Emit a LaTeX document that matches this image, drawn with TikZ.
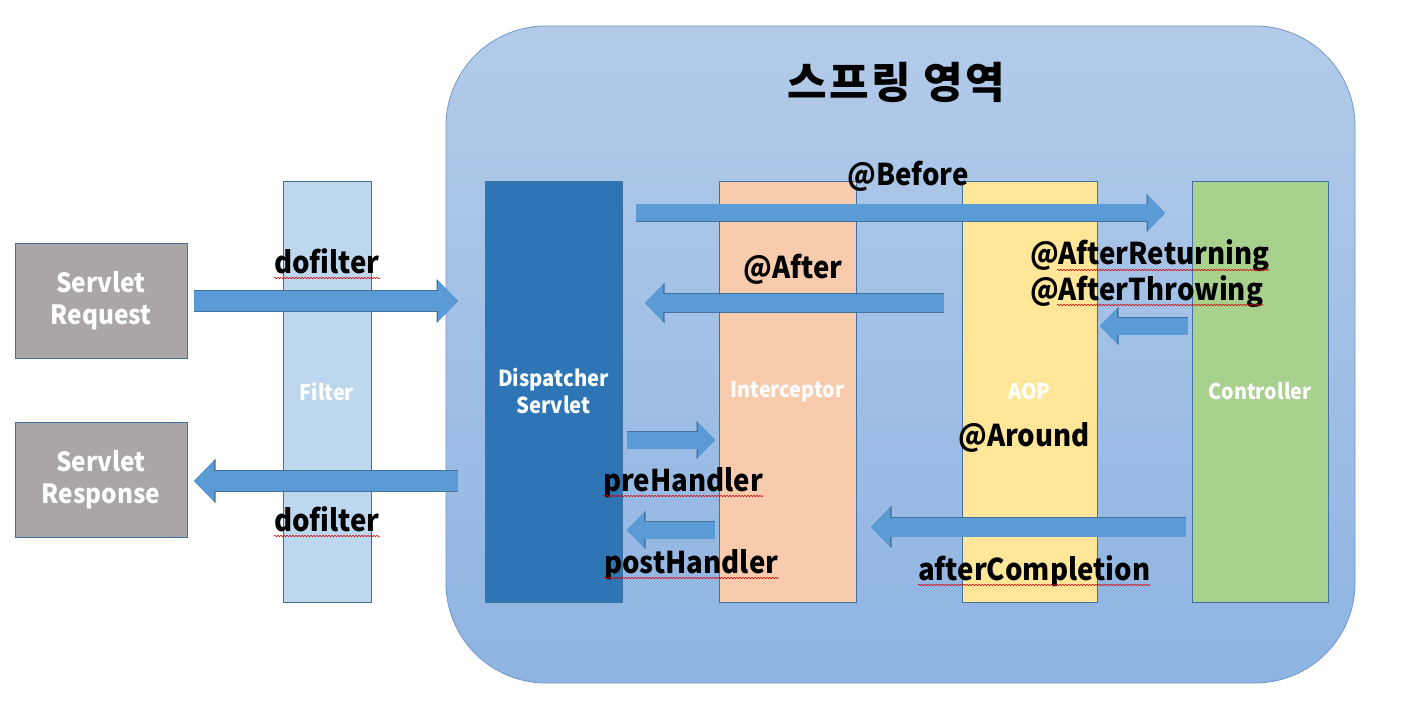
\documentclass[tikz,border=0pt]{standalone}
\usepackage{fontspec}
\setmainfont{Noto Sans CJK KR}
\newfontfamily\narrowfont{Noto Sans CJK KR}[FakeStretch=0.92]
\usepackage{tikz}
\usetikzlibrary{arrows.meta,decorations.pathmorphing}

\definecolor{springtop}{HTML}{B3CBE9}
\definecolor{springbot}{HTML}{8EB4E2}
\definecolor{springline}{HTML}{7397C8}
\definecolor{edgeblue}{HTML}{41719C}
\definecolor{arrowblue}{HTML}{5B9BD5}
\definecolor{servgray}{HTML}{A9A6A5}
\definecolor{filterblue}{HTML}{BDD7EE}
\definecolor{dispblue}{HTML}{2E75B6}
\definecolor{intcpeach}{HTML}{F8CBAD}
\definecolor{aopyellow}{HTML}{FFE699}
\definecolor{ctrlgreen}{HTML}{A9D18E}

\begin{document}
\begin{tikzpicture}[x=1pt,y=-1pt,
    col/.style={draw=edgeblue,line width=0.8pt,inner sep=0pt,minimum height=421pt,
                text=white,align=center,font=\narrowfont\bfseries\fontsize{21.5}{26}\selectfont},
    serv/.style={draw=edgeblue,line width=0.8pt,fill=servgray,inner sep=0pt,
                 minimum width=172pt,minimum height=115pt,text=white,align=center,
                 font=\narrowfont\bfseries\fontsize{26.5}{32}\selectfont},
    lbl/.style={inner sep=0pt,font=\narrowfont\bfseries\fontsize{30}{36}\selectfont},
    flow/.style={line width=#1,draw=arrowblue,-{Triangle[length=0pt 1.0,width=0pt 2.0]},
                 preaction={draw=edgeblue,line width=#1+1.5pt,
                            -{Triangle[length=0pt 1.0,width=0pt 2.0]}}},
    typo/.style={draw=red!85!black,line width=0.6pt,decorate,
                 decoration={snake,amplitude=0.7pt,segment length=3pt}}]

  \useasboundingbox (0,0) rectangle (1403,714);

  % spring area
  \node[draw=springline,line width=0.8pt,top color=springtop,bottom color=springbot,
        rounded corners=100pt,minimum width=909pt,minimum height=657pt,inner sep=0pt]
        (spring) at (900.5,354.5) {};
  \node[font=\bfseries\fontsize{43}{48}\selectfont\addfontfeatures{LetterSpace=6}]
        (title) at (896,82) {스프링 영역};

  % columns
  \node[serv] (req) at (101,300.5) {Servlet\\Request};
  \node[serv] (res) at (101,479.5) {Servlet\\Response};
  \node[col,fill=filterblue,minimum width=88pt] (filter) at (327,391.5) {Filter};
  \node[col,fill=dispblue,minimum width=137pt,font=\narrowfont\bfseries\fontsize{22}{27}\selectfont]
        (disp) at (553.5,391.5) {Dispatcher\\Servlet};
  \node[col,fill=intcpeach,minimum width=137pt] (intc) at (787.5,391.5) {Interceptor};
  \node[col,fill=aopyellow,minimum width=135pt] (aop) at (1029.5,391.5) {AOP};
  \node[col,fill=ctrlgreen,minimum width=136pt] (ctrl) at (1260,391.5) {Controller};

  % arrow ends
  \coordinate (inA) at (194,301);   \coordinate (inB) at (458,301);
  \coordinate (outA) at (458,481);  \coordinate (outB) at (194,481);
  \coordinate (befA) at (636,213);  \coordinate (befB) at (1165,213);
  \coordinate (aftA) at (944,303);  \coordinate (aftB) at (645,303);
  \coordinate (preA) at (627,440);  \coordinate (preB) at (715,440);
  \coordinate (postA) at (715,530); \coordinate (postB) at (627,530);
  \coordinate (retA) at (1188,326); \coordinate (retB) at (1100,326);
  \coordinate (cmpA) at (1186,527); \coordinate (cmpB) at (871,527);

  \draw[flow=20pt] (inA) -- (inB);
  \draw[flow=20pt] (outA) -- (outB);
  \draw[flow=17pt] (befA) -- (befB);
  \draw[flow=18pt] (aftA) -- (aftB);
  \draw[flow=17pt] (preA) -- (preB);
  \draw[flow=17pt] (postA) -- (postB);
  \draw[flow=17pt] (retA) -- (retB);
  \draw[flow=19pt] (cmpA) -- (cmpB);

  % labels
  \node[lbl,anchor=base] (dfIn) at (327,273) {dofilter};
  \node[lbl,anchor=base] (dfOut) at (327,531) {dofilter};
  \node[lbl,anchor=base] (before) at (908,186) {@Before};
  \node[lbl,anchor=base] (after) at (793,278) {@After};
  \node[lbl,anchor=base west] (aret) at (1030,265) {@AfterReturning};
  \node[lbl,anchor=base west] (athrow) at (1030,300) {@AfterThrowing};
  \node[lbl,anchor=base] (around) at (1024,446) {@Around};
  \node[lbl,anchor=base west] (pre) at (603,491) {preHandler};
  \node[lbl,anchor=base west] (post) at (604,573) {postHandler};
  \node[lbl,anchor=base west] (compl) at (918,580) {afterCompletion};

  % spelling marks
  \draw[typo] ([yshift=-5pt]dfIn.base west) -- ([yshift=-5pt]dfIn.base east);
  \draw[typo] ([yshift=-5pt]dfOut.base west) -- ([yshift=-5pt]dfOut.base east);
  \draw[typo] ([xshift=27pt,yshift=-5pt]aret.base west) -- ([yshift=-5pt]aret.base east);
  \draw[typo] ([xshift=27pt,yshift=-5pt]athrow.base west) -- ([yshift=-5pt]athrow.base east);
  \draw[typo] ([yshift=-5pt]pre.base west) -- ([yshift=-5pt]pre.base east);
  \draw[typo] ([yshift=-5pt]post.base west) -- ([yshift=-5pt]post.base east);
  \draw[typo] ([yshift=-5pt]compl.base west) -- ([yshift=-5pt]compl.base east);
\end{tikzpicture}
\end{document}
